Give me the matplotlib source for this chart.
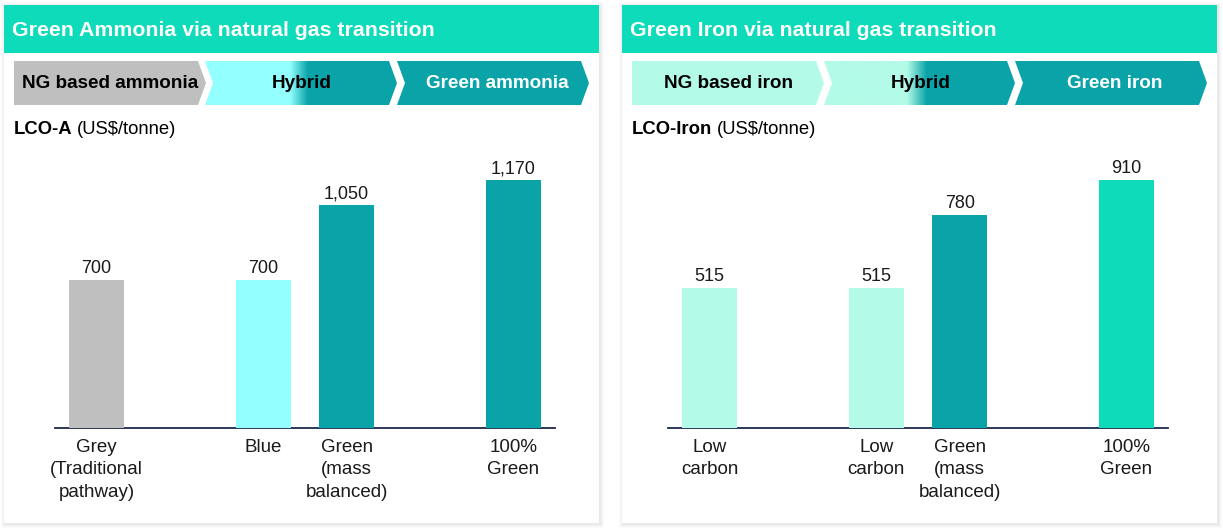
import matplotlib
matplotlib.use("Agg")
import matplotlib.pyplot as plt
from matplotlib.patches import Polygon, Rectangle
import matplotlib.colors as mcolors
import numpy as np

plt.rcParams['font.family'] = ['Liberation Sans', 'DejaVu Sans']

# ---- data ----
ammonia_titles = ["Green Ammonia via natural gas transition"]
ammonia_stages = ["NG based ammonia", "Hybrid", "Green ammonia"]
ammonia_cats = ["Grey\n(Traditional\npathway)", "Blue", "Green\n(mass\nbalanced)", "100%\nGreen"]
ammonia_vals = [700, 700, 1050, 1170]

iron_titles = ["Green Iron via natural gas transition"]
iron_stages = ["NG based iron", "Hybrid", "Green iron"]
iron_cats = ["Low\ncarbon", "Low\ncarbon", "Green\n(mass\nbalanced)", "100%\nGreen"]
iron_vals = [515, 515, 780, 910]

bar_pos = [0, 2, 3, 5]

# ---- colours ----
HEADER = "#0EDBBA"
GREY = "#BFBFBF"
CYAN = "#93FFFF"
TEAL = "#0AA3A8"
MINT = "#B3FBE8"
NAVY = "#1B2A4A"

W, H = 1223, 531
fig = plt.figure(figsize=(W / 100, H / 100), dpi=100)
fig.patch.set_facecolor("white")

bg = fig.add_axes([0, 0, 1, 1])
bg.set_xlim(0, W)
bg.set_ylim(H, 0)
bg.axis("off")
bg.set_zorder(0)


def card(x0, x1, y0, y1):
    # soft shadow
    for i, a in enumerate([0.04, 0.05, 0.06, 0.07]):
        g = 4 - i
        bg.add_patch(Rectangle((x0 - g + 1, y0 - g + 1), x1 - x0 + 2 * g, y1 - y0 + 2 * g,
                               facecolor="#9A9A9A", edgecolor="none", alpha=a, zorder=1))
    bg.add_patch(Rectangle((x0, y0), x1 - x0, y1 - y0, facecolor="white",
                           edgecolor="none", zorder=2))
    bg.add_patch(Rectangle((x0, y0), x1 - x0, 48, facecolor=HEADER,
                           edgecolor="none", zorder=3))


def chevron(xl, xr, notch, top=61, bot=105, d=8):
    mid = (top + bot) / 2
    pts = [(xl, top), (xr, top), (xr + d, mid), (xr, bot), (xl, bot),
           (xl + d if notch else xl, mid)]
    return pts


def stage_row(x, stages, colors, txtcolors, grad):
    # x: list of (xl, xr) for three chevrons
    for i, ((xl, xr), s) in enumerate(zip(x, stages)):
        pts = chevron(xl, xr, i > 0)
        if i == 1:
            poly = Polygon(pts, closed=True, facecolor="none", edgecolor="none", zorder=4)
            bg.add_patch(poly)
            xs = np.linspace(xl, xr + 8, 400)
            t = np.clip((xs - grad[0]) / (grad[1] - grad[0]), 0, 1)
            c0 = np.array(mcolors.to_rgb(colors[1]))
            c1 = np.array(mcolors.to_rgb(TEAL))
            img = (c0[None, :] * (1 - t[:, None]) + c1[None, :] * t[:, None])[None, :, :]
            im = bg.imshow(img, extent=(xl, xr + 8, 105, 61), aspect="auto",
                           interpolation="bilinear", zorder=4)
            im.set_clip_path(poly)
        else:
            bg.add_patch(Polygon(pts, closed=True, facecolor=colors[i],
                                 edgecolor="none", zorder=4))
        bg.text((xl + xr + 8) / 2 + (4 if i > 0 else 0) - (3 if i == 1 else 0), 83.5, s,
                ha="center", va="center", fontsize=13.6, fontweight="bold",
                color=txtcolors[i], zorder=5)


def unit_label(x, bold, rest):
    t = bg.text(x, 129, bold, fontsize=13.3, fontweight="bold", ha="left",
                va="center", zorder=5)
    bg.annotate(rest, xy=(1, 0), xycoords=t, xytext=(3, 0), textcoords="offset points",
                ha="left", va="bottom", fontsize=13.3, zorder=5)


def bars(left_px, vals, cats, colors):
    top_px, base_px = 140, 428
    ax = fig.add_axes([left_px / W, (H - base_px) / H, 500 / W, (base_px - top_px) / H])
    ax.set_zorder(2)
    ax.patch.set_alpha(0)
    ax.bar(bar_pos, vals, width=0.66, color=colors, zorder=3)
    ax.set_xlim(-0.5, 5.5)
    ax.set_ylim(0, max(vals) * 288 / 248)
    for p, v in zip(bar_pos, vals):
        ax.annotate(f"{v:,}", xy=(p, v), xytext=(0, 5), textcoords="offset points",
                    ha="center", va="baseline", fontsize=13, color="#1A1A1A")
    ax.set_xticks(bar_pos)
    ax.set_xticklabels(cats, fontsize=13.5, linespacing=1.4, color="#1A1A1A")
    ax.tick_params(axis="x", length=0, pad=8)
    ax.set_yticks([])
    for s in ["top", "right", "left"]:
        ax.spines[s].set_visible(False)
    ax.spines["bottom"].set_color(NAVY)
    ax.spines["bottom"].set_linewidth(1.3)
    return ax


# ---- panel 1: ammonia ----
card(4, 599, 5, 523)
bg.text(12, 30, ammonia_titles[0], fontsize=15.3, fontweight="bold", color="white",
        ha="left", va="center", zorder=5)
stage_row([(14, 198), (205, 389), (397, 581)], ammonia_stages,
          [GREY, CYAN, TEAL], ["black", "black", "white"], (290, 308))
unit_label(14, "LCO-A", "(US$/tonne)")
bars(55, ammonia_vals, ammonia_cats, [GREY, CYAN, TEAL, TEAL])

# ---- panel 2: iron ----
card(622, 1217, 5, 523)
bg.text(630, 30, iron_titles[0], fontsize=15.3, fontweight="bold", color="white",
        ha="left", va="center", zorder=5)
stage_row([(632, 816), (824, 1007), (1015, 1199)], iron_stages,
          [MINT, MINT, TEAL], ["black", "black", "white"], (907, 927))
unit_label(632, "LCO-Iron", "(US$/tonne)")
bars(668, iron_vals, iron_cats, [MINT, MINT, TEAL, HEADER])

fig.savefig("out.png", dpi=100)
